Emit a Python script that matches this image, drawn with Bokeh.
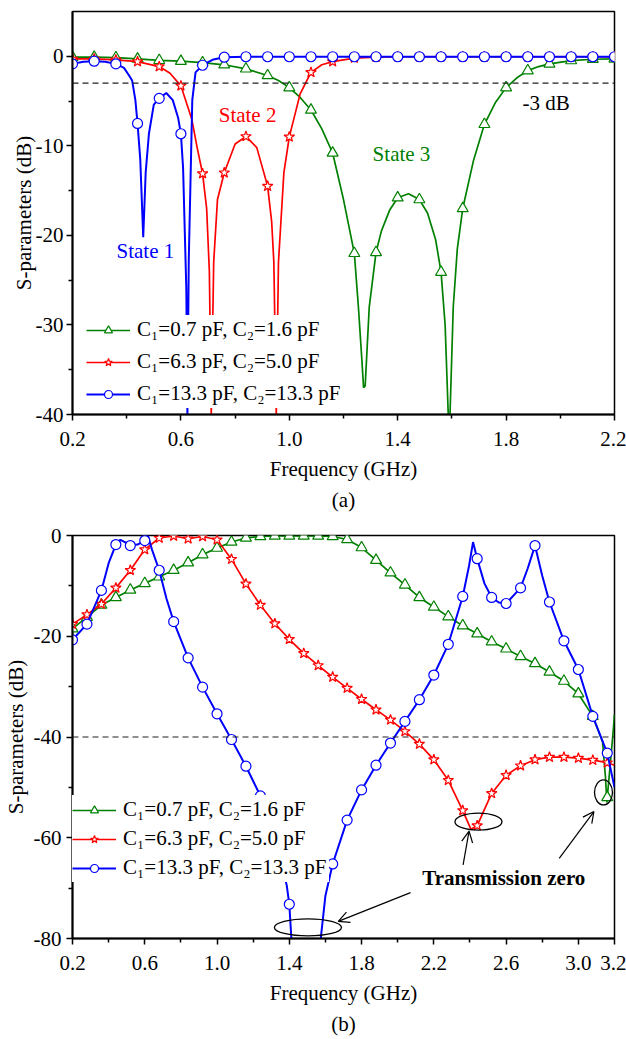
import math
from bokeh.plotting import figure
from bokeh.models import (Span, Label, Title, FixedTicker, Range1d, Arrow, OpenHead,
                          NumeralTickFormatter)
from bokeh.layouts import column
from bokeh.embed import file_html
from bokeh.resources import INLINE

FONT = "Liberation Serif"
GREEN = "#008000"
RED = "#ff0000"
BLUE = "#0000ff"
NAN = float("nan")

LEGEND_LABELS = ["C\u2081=0.7 pF, C\u2082=1.6 pF",
                 "C\u2081=6.3 pF, C\u2082=5.0 pF",
                 "C\u2081=13.3 pF, C\u2082=13.3 pF"]

# ---------------- Panel (a) ----------------
A_MK_F = [0.20, 0.28, 0.36, 0.44, 0.52, 0.60, 0.68, 0.76, 0.84, 0.92, 1.00, 1.08, 1.16,
          1.24, 1.32, 1.40, 1.48, 1.56, 1.64, 1.72, 1.80, 1.88, 1.96, 2.04, 2.12, 2.20]
A_G_MK = [-0.1, -0.1, -0.15, -0.3, -0.45, -0.55, -0.7, -0.95, -1.4, -2.15, -3.5, -6.0, -10.8,
          -22.0, -21.9, -15.8, -16.0, -24.1, -17.0, -7.6, -3.5, -1.6, -0.85, -0.48, -0.33, -0.3]
A_R_MK = [-0.3, -0.3, -0.4, -0.6, -1.15, -3.3, -13.1, -13.0, -8.95, -14.5, -9.0, -1.8, -0.6,
          -0.2, -0.1, -0.05, -0.05, -0.05, -0.05, -0.05, -0.05, -0.05, -0.05, -0.05, -0.05, -0.05]
A_B_MK = [-0.85, -0.55, -0.85, -7.5, -4.7, -8.65, -1.0, -0.1, -0.05, -0.05, -0.05, -0.05, -0.05,
          -0.05, -0.05, -0.05, -0.05, -0.05, -0.05, -0.05, -0.05, -0.05, -0.05, -0.05, -0.05, -0.05]

A_G_LF = [0.20, 0.28, 0.36, 0.44, 0.52, 0.60, 0.68, 0.76, 0.84, 0.92, 0.96, 1.00, 1.04, 1.08,
          1.12, 1.16, 1.20, 1.22, 1.24, 1.255, 1.268, 1.274, 1.28, 1.295, 1.32, 1.34, 1.37, 1.40,
          1.44, 1.48, 1.51, 1.54, 1.56, 1.575, 1.59, 1.605, 1.62, 1.64, 1.68, 1.72, 1.76, 1.80,
          1.84, 1.88, 1.92, 1.96, 2.04, 2.12, 2.20]
A_G_LV = [-0.1, -0.1, -0.15, -0.3, -0.45, -0.55, -0.7, -0.95, -1.4, -2.15, -2.7, -3.5, -4.6, -6.0,
          -8.1, -10.8, -16.0, -19.0, -22.0, -28.0, -34.0, -37.0, -36.8, -28.0, -21.9, -19.5, -17.2, -15.8,
          -15.35, -16.0, -17.5, -20.5, -24.1, -30.0, -43.0, -28.0, -21.5, -17.0, -11.6, -7.6, -5.2, -3.5,
          -2.4, -1.6, -1.15, -0.85, -0.48, -0.33, -0.3]

A_R_LF = [0.20, 0.28, 0.36, 0.44, 0.52, 0.56, 0.60, 0.64, 0.66, 0.68, 0.695, 0.705, 0.712, 0.721,
          0.735, 0.76, 0.80, 0.84, 0.88, 0.92, 0.935, 0.943, 0.952, 0.96, 0.98, 1.00, 1.04, 1.08,
          1.12, 1.16, 1.24, 1.32, 1.40, 2.20]
A_R_LV = [-0.3, -0.3, -0.4, -0.6, -1.15, -1.9, -3.3, -7.0, -10.2, -13.1, -17.0, -24.0, -40.0, -23.0,
          -16.0, -13.0, -9.8, -8.95, -10.2, -14.5, -18.5, -23.0, -40.0, -23.0, -13.0, -9.0, -4.2, -1.8,
          -0.95, -0.6, -0.2, -0.1, -0.05, -0.05]

A_B_LF = [0.20, 0.24, 0.28, 0.32, 0.36, 0.39, 0.41, 0.42, 0.432, 0.44, 0.45, 0.461, 0.47, 0.482,
          0.50, 0.52, 0.546, 0.57, 0.59, 0.60, 0.608, 0.62, 0.624, 0.629, 0.642, 0.654, 0.68, 0.72,
          0.76, 0.84, 2.20]
A_B_LV = [-0.85, -0.6, -0.55, -0.6, -0.85, -1.3, -2.2, -2.7, -4.9, -7.5, -11.5, -20.2, -13.0, -8.65,
          -5.4, -4.7, -4.1, -4.9, -6.9, -8.65, -12.4, -26.0, -40.0, -22.8, -4.9, -1.8, -1.0, -0.35,
          -0.1, -0.05, -0.05]

A_XTICKS = [0.2, 0.6, 1.0, 1.4, 1.8, 2.2]
A_XMINOR = [0.4, 0.8, 1.2, 1.6, 2.0]
A_YTICKS = [-40, -30, -20, -10, 0]
A_YMINOR = [-35, -25, -15, -5]

# ---------------- Panel (b) ----------------
B_MK_F = [0.20, 0.28, 0.36, 0.44, 0.52, 0.60, 0.68, 0.76, 0.84, 0.92, 1.00, 1.08, 1.16, 1.24,
          1.32, 1.40, 1.48, 1.56, 1.64, 1.72, 1.80, 1.88, 1.96, 2.04, 2.12, 2.20, 2.28, 2.36,
          2.44, 2.52, 2.60, 2.68, 2.76, 2.84, 2.92, 3.00, 3.08, 3.16]
B_G_MK = [-18.5, -16.2, -13.8, -12.3, -10.8, -9.5, -8.2, -6.9, -5.4, -3.8, -2.5, -1.3, -0.5, -0.2,
          -0.1, -0.1, -0.1, -0.1, -0.2, -0.8, -2.4, -4.9, -7.4, -9.8, -12.3, -14.2, -16.1, -17.9,
          -19.5, -21.1, -22.5, -24.0, -25.4, -27.1, -28.9, -31.4, -35.9, -52.0]
B_R_MK = [-17.6, -15.7, -13.6, -10.4, -6.9, -2.8, -0.5, -0.1, -0.65, -0.2, -0.85, -4.7, -9.6, -13.8,
          -17.5, -20.6, -23.4, -25.8, -28.1, -30.3, -32.5, -34.6, -36.6, -38.9, -41.4, -44.5, -48.6, -54.6,
          -57.6, -51.2, -47.6, -45.7, -44.5, -44.0, -44.0, -44.2, -44.6, -45.1]
B_B_MK = [-20.7, -17.6, -10.9, -1.8, -2.0, -1.0, -6.9, -17.1, -24.3, -30.1, -35.4, -40.5, -45.8, -51.7,
          -60.0, -73.2, NAN, NAN, -65.2, -56.5, -50.5, -45.6, -41.2, -36.9, -32.6, -27.7, -21.6, -12.1,
          -4.6, -12.3, -13.5, -10.4, -2.0, -13.2, -20.9, -26.6, -35.9, -43.2]

# extra line points between markers (dips / peaks)
B_G_XF = [3.134, 3.15, 3.158, 3.175, 3.19, 3.20]
B_G_XV = [-41.0, -48.0, -53.0, -46.0, -40.0, -35.5]
B_R_XF = [2.405, 3.20]
B_R_XV = [-58.3, -45.6]
B_B_XF = [0.40, 0.465, 0.49, 0.56, 0.617, 0.64, 0.72, 1.386, 1.415, 1.48, 1.52, 1.568, 1.60,
          2.395, 2.417, 2.48, 2.56, 2.72, 2.80, 3.20]
B_B_XV = [-5.5, -0.85, -1.3, -1.8, 0.0, -2.8, -12.5, -69.5, -82.0, -95.0, -95.0, -82.0, -71.5,
          -6.0, -1.3, -9.5, -13.3, -6.5, -8.0, -50.0]

B_XTICKS = [0.2, 0.6, 1.0, 1.4, 1.8, 2.2, 2.6, 3.0, 3.2]
B_XMINOR = [0.4, 0.8, 1.2, 1.6, 2.0, 2.4, 2.8]
B_YTICKS = [-80, -60, -40, -20, 0]
B_YMINOR = [-70, -50, -30, -10]


def merge(f1, v1, f2, v2):
    pts = sorted((f, v) for f, v in zip(list(f1) + list(f2), list(v1) + list(v2))
                 if not math.isnan(v))
    return [p[0] for p in pts], [p[1] for p in pts]


def style(p, xt, xm, yt, ym, ylab_standoff, yaxlab_standoff):
    p.outline_line_color = "black"
    p.outline_line_width = 1.5
    p.xgrid.visible = False
    p.ygrid.visible = False
    p.background_fill_color = "white"
    p.border_fill_color = "white"
    for ax in (p.xaxis[0], p.yaxis[0]):
        ax.axis_line_width = 2
        ax.axis_line_color = "black"
        ax.major_tick_out = 6
        ax.major_tick_in = 0
        ax.minor_tick_out = 4
        ax.minor_tick_in = 0
        ax.major_tick_line_width = 1.5
        ax.minor_tick_line_width = 1.5
        ax.major_label_text_font = FONT
        ax.major_label_text_font_size = "21px"
        ax.major_label_text_color = "black"
        ax.axis_label_text_font = FONT
        ax.axis_label_text_font_size = "21px"
        ax.axis_label_text_font_style = "normal"
        ax.axis_label_text_color = "black"
    p.xaxis[0].ticker = FixedTicker(ticks=xt, minor_ticks=xm)
    p.xaxis[0].formatter = NumeralTickFormatter(format="0.0")
    p.yaxis[0].ticker = FixedTicker(ticks=yt, minor_ticks=ym)
    p.yaxis[0].formatter = NumeralTickFormatter(format="0")
    p.xaxis[0].major_label_standoff = 11
    p.xaxis[0].axis_label_standoff = 8
    p.yaxis[0].major_label_standoff = ylab_standoff
    p.yaxis[0].axis_label_standoff = yaxlab_standoff
    p.xaxis[0].axis_label = "Frequency (GHz)"
    p.yaxis[0].axis_label = "S-parameters (dB)"


def add_series(p, lf, lv, mf, mv, color, marker, msize, lw, label):
    p.line(lf, lv, line_color=color, line_width=lw, legend_label=label)
    p.scatter(mf, mv, marker=marker, size=msize, fill_color="white", line_color=color,
              line_width=1.2, legend_label=label)


def style_legend(p, loc, spacing):
    lg = p.legend[0]
    lg.location = loc
    lg.background_fill_color = "white"
    lg.background_fill_alpha = 1.0
    lg.border_line_alpha = 0
    lg.padding = 2
    lg.margin = 0
    lg.spacing = spacing
    lg.glyph_width = 44
    lg.glyph_height = 20
    lg.label_height = 20
    lg.label_standoff = 7
    lg.label_text_font = FONT
    lg.label_text_font_size = "21px"
    lg.label_text_color = "black"


def caption(p, text):
    p.add_layout(Title(text=text, align="center", text_font=FONT, text_font_size="21px",
                       text_font_style="normal", text_color="black", standoff=5), "below")


# ---------- figure (a) ----------
pa = figure(width=626, height=520, output_backend="svg", toolbar_location=None, title=None,
            x_range=Range1d(0.2, 2.2), y_range=Range1d(-40, 5),
            min_border_left=72, min_border_right=12, min_border_top=11, min_border_bottom=106)
style(pa, A_XTICKS, A_XMINOR, A_YTICKS, A_YMINOR, 3, -3)
pa.add_layout(Span(location=-3, dimension="width", line_color="#222222", line_dash="6 4",
                   line_width=1.2))
add_series(pa, A_G_LF, A_G_LV, A_MK_F, A_G_MK, GREEN, "triangle", 11, 1.7, LEGEND_LABELS[0])
add_series(pa, A_R_LF, A_R_LV, A_MK_F, A_R_MK, RED, "star", 11, 1.7, LEGEND_LABELS[1])
add_series(pa, A_B_LF, A_B_LV, A_MK_F, A_B_MK, BLUE, "circle", 10, 2.0, LEGEND_LABELS[2])
for x, y, t, c in [(0.469, -21.7, "State 1", BLUE), (0.846, -6.6, "State 2", RED),
                   (1.414, -10.9, "State 3", GREEN), (1.948, -5.2, "-3 dB", "black")]:
    pa.add_layout(Label(x=x, y=y, text=t, text_color=c, text_font=FONT, text_font_size="21px",
                        text_align="center", text_baseline="middle"))
style_legend(pa, (12, 6), 7)
caption(pa, "(a)")

# ---------- figure (b) ----------
pb = figure(width=626, height=518, output_backend="svg", toolbar_location=None, title=None,
            x_range=Range1d(0.2, 3.2), y_range=Range1d(-80, 0),
            min_border_left=67, min_border_right=12, min_border_top=15, min_border_bottom=96)
style(pb, B_XTICKS, B_XMINOR, B_YTICKS, B_YMINOR, 5, 3)
pb.add_layout(Span(location=-40, dimension="width", line_color="#222222", line_dash="6 4",
                   line_width=1.2))
gf, gv = merge(B_MK_F, B_G_MK, B_G_XF, B_G_XV)
rf, rv = merge(B_MK_F, B_R_MK, B_R_XF, B_R_XV)
bf, bv = merge(B_MK_F, B_B_MK, B_B_XF, B_B_XV)
add_series(pb, gf, gv, B_MK_F, B_G_MK, GREEN, "triangle", 11, 1.7, LEGEND_LABELS[0])
add_series(pb, rf, rv, B_MK_F, B_R_MK, RED, "star", 11, 1.7, LEGEND_LABELS[1])
add_series(pb, bf, bv, B_MK_F, B_B_MK, BLUE, "circle", 10, 2.0, LEGEND_LABELS[2])
style_legend(pb, (-2, 56), 4)

# transmission-zero annotation
pb.ellipse(x=[1.503, 2.447, 3.139], y=[-77.8, -56.8, -51.0], width=[67, 47, 18],
           height=[17, 17, 25], width_units="screen", height_units="screen",
           fill_alpha=0, line_color="black", line_width=1.3)
for xs, ys, xe, ye in [(2.071, -70.9, 1.671, -76.6), (2.362, -65.4, 2.395, -58.7),
                       (2.894, -64.1, 3.086, -54.8)]:
    pb.add_layout(Arrow(end=OpenHead(size=11, line_width=1.2, line_color="black"),
                        x_start=xs, y_start=ys, x_end=xe, y_end=ye,
                        line_width=1.2, line_color="black"))
pb.add_layout(Label(x=2.587, y=-67.9, text="Transmission zero", text_font=FONT,
                    text_font_size="21px", text_font_style="bold", text_color="black",
                    text_align="center", text_baseline="middle"))
caption(pb, "(b)")

layout = column(pa, pb, spacing=0)
open("out.html", "w").write(file_html(layout, INLINE))
